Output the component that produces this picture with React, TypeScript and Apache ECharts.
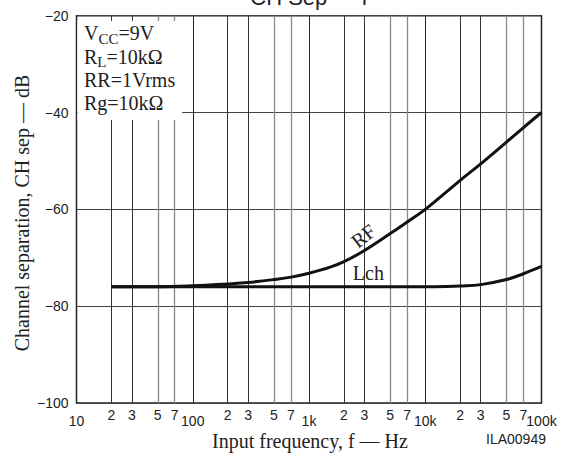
import React, { useEffect, useRef } from "react";
import * as echarts from "echarts";

// Curve data (frequency in Hz, separation in dB)
const rfFreq = [20, 50, 100, 200, 300, 500, 700, 1000, 1500, 2000, 3000, 5000, 7000, 10000, 20000, 30000, 50000, 70000, 100000];
const rfDb = [-76, -76, -75.8, -75.4, -75.1, -74.5, -74, -73.2, -72, -70.8, -68.5, -65, -62.6, -60, -54, -50.6, -46.1, -43.1, -40];

const lchFreq = [20, 100, 1000, 5000, 10000, 15000, 20000, 30000, 50000, 70000, 100000];
const lchDb = [-76, -76, -76, -76, -76, -75.95, -75.85, -75.55, -74.5, -73.3, -71.8];

// Axis ticks
const decades = [10, 100, 1000, 10000];
const minorSteps = [2, 3, 5, 7];
const decadeLabels: Record<number, string> = { 10: "10", 100: "100", 1000: "1k", 10000: "10k", 100000: "100k" };
const yMin = -100;
const yMax = -20;
const yStep = 20;

// Annotations
const titleText = "CH Sep \u2014 f";
const xTitle = "Input frequency, f \u2014 Hz";
const yTitle = "Channel separation, CH sep \u2014 dB";
const figId = "ILA00949";
// each condition line: [main, subscript, rest]
const condLines: [string, string, string][] = [
  ["V", "CC", "=9V"],
  ["R", "L", "=10k\u03a9"],
  ["RR=1Vrms", "", ""],
  ["Rg=10k\u03a9", "", ""],
];
const rfLabel = { text: "RF", f: 2930, db: -65.5 };
const lchLabel = { text: "Lch", f: 3240, db: -73.1 };

const SANS = "'Liberation Sans', Arial, sans-serif";
const SERIF = "'Liberation Serif', 'Times New Roman', serif";

function measure(text: string, size: number): number {
  const c = document.createElement("canvas").getContext("2d");
  if (!c) return text.length * size * 0.55;
  c.font = `${size}px ${SERIF}`;
  return c.measureText(text).width;
}

export default function App() {
  const ref = useRef<HTMLDivElement>(null);

  useEffect(() => {
    const chart = echarts.init(ref.current!, null, { renderer: "svg" });

    const minorLines: any[] = [];
    decades.forEach((d) => {
      minorSteps.forEach((m) => {
        minorLines.push({
          xAxis: d * m,
          lineStyle: { color: m <= 3 ? "#333" : "#8a8a8a", width: m <= 3 ? 1 : 1.3, type: "solid" },
          label: { formatter: String(m) },
        });
      });
    });

    const option: any = {
      animation: false,
      backgroundColor: "#fff",
      grid: {
        left: 76.5,
        right: 19.5,
        top: 15.7,
        bottom: 54,
        show: true,
        borderColor: "#222",
        borderWidth: 1.5,
        backgroundColor: "transparent",
      },
      xAxis: {
        type: "log",
        logBase: 10,
        min: 10,
        max: 100000,
        axisLine: { show: false },
        axisTick: { show: false },
        splitLine: { show: true, lineStyle: { color: "#222", width: 1 } },
        axisLabel: {
          margin: 11,
          fontFamily: SANS,
          fontSize: 14,
          color: "#222",
          showMinLabel: true,
          showMaxLabel: true,
          formatter: (v: number) => decadeLabels[Math.round(v)] ?? "",
        },
      },
      yAxis: {
        type: "value",
        min: yMin,
        max: yMax,
        interval: yStep,
        axisLine: { show: false },
        axisTick: { show: false },
        splitLine: { show: true, lineStyle: { color: "#444", width: 1 } },
        axisLabel: {
          margin: 8,
          fontFamily: SANS,
          fontSize: 14,
          color: "#222",
          formatter: (v: number) => (v < 0 ? "\u2212" + Math.abs(v) : String(v)),
        },
      },
      series: [
        {
          type: "line",
          name: "RF",
          data: rfFreq.map((f, i) => [f, rfDb[i]]),
          showSymbol: false,
          smooth: 0.4,
          lineStyle: { color: "#111", width: 3 },
          z: 5,
        },
        {
          type: "line",
          name: "Lch",
          data: lchFreq.map((f, i) => [f, lchDb[i]]),
          showSymbol: false,
          smooth: 0.4,
          lineStyle: { color: "#111", width: 3 },
          z: 5,
          markLine: {
            silent: true,
            symbol: "none",
            animation: false,
            label: {
              show: true,
              position: "start",
              distance: 5,
              fontFamily: SANS,
              fontSize: 14,
              color: "#222",
            },
            emphasis: { disabled: true },
            data: minorLines,
          },
        },
      ],
    };

    chart.setOption(option);

    const rfP = chart.convertToPixel({ gridIndex: 0 }, [rfLabel.f, rfLabel.db]) as number[];
    const lchP = chart.convertToPixel({ gridIndex: 0 }, [lchLabel.f, lchLabel.db]) as number[];

    const serifText = (text: string, x: number, y: number, size: number, extra: any = {}) => ({
      type: "text",
      z: 51,
      x,
      y,
      silent: true,
      ...extra,
      style: {
        text,
        fontFamily: SERIF,
        fontSize: size,
        fill: "#222",
        align: extra.align ?? "left",
        verticalAlign: "middle",
      },
    });

    const condEls: any[] = [];
    const x0 = 84;
    const lineGap = 23.3;
    const firstBaseline = 40;
    condLines.forEach(([main, sub, rest], i) => {
      const base = firstBaseline + i * lineGap;
      const yMid = base - 6.8;
      condEls.push(serifText(main, x0, yMid, 20));
      if (sub) {
        const wMain = measure(main, 20);
        condEls.push(serifText(sub, x0 + wMain, base - 1.3, 15));
        const wSub = measure(sub, 15);
        condEls.push(serifText(rest, x0 + wMain + wSub, yMid, 20));
      }
    });

    chart.setOption({
      graphic: [
        {
          type: "rect",
          z: 50,
          shape: { x: 77.5, y: 21, width: 104.5, height: 99 },
          style: { fill: "#fff" },
          silent: true,
        },
        ...condEls,
        {
          type: "text",
          z: 51,
          x: 309,
          y: -2.5,
          silent: true,
          style: {
            text: titleText,
            fontFamily: SANS,
            fontSize: 22,
            fill: "#222",
            align: "center",
            verticalAlign: "middle",
          },
        },
        serifText(xTitle, 310, 441, 20, { align: "center" }),
        serifText(yTitle, 22, 213, 20, { align: "center", rotation: Math.PI / 2 }),
        {
          type: "text",
          z: 51,
          x: 516,
          y: 439,
          silent: true,
          style: {
            text: figId,
            fontFamily: SANS,
            fontSize: 14,
            fill: "#222",
            align: "center",
            verticalAlign: "middle",
          },
        },
        serifText(rfLabel.text, rfP[0], rfP[1], 20, { align: "center", rotation: (38 * Math.PI) / 180 }),
        serifText(lchLabel.text, lchP[0], lchP[1], 20, { align: "center" }),
      ],
    });

    return () => chart.dispose();
  }, []);

  return <div ref={ref} style={{ position: "fixed", left: 0, top: 0, width: 561, height: 457 }} />;
}
